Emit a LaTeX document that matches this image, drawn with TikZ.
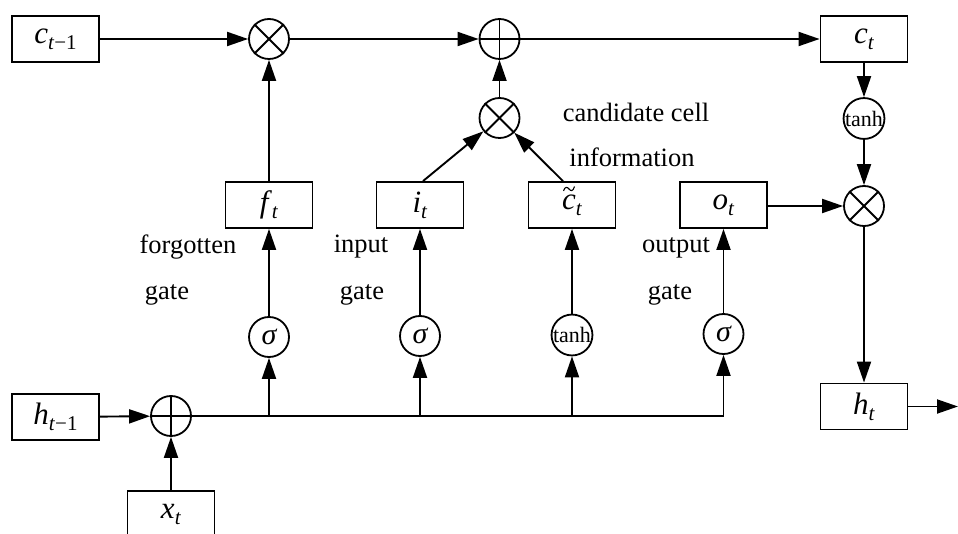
\documentclass[tikz,border=0pt]{standalone}
\usepackage{fontspec}
\setmainfont{Liberation Serif}
\usetikzlibrary{arrows.meta}
\newcommand{\vsub}[2]{{\fontsize{31}{31}\selectfont\textit{#1}}\raisebox{-6pt}{\fontsize{21}{21}\selectfont #2}}
\tikzset{
  box/.style={draw, line width=1.8pt, minimum width=87pt, minimum height=46pt, inner sep=0pt},
  op/.style={draw, circle, line width=1.8pt, minimum size=40pt, inner sep=0pt},
  arr/.style={line width=1.9pt, -{Triangle[length=21pt,width=14pt]}},
  ln/.style={line width=1.9pt},
  lbl/.style={font=\fontsize{26.5}{30}\selectfont, inner sep=0pt},
  fn/.style={font=\fontsize{22}{22}\selectfont},
  sg/.style={font=\fontsize{30}{30}\selectfont\itshape}
}
\begin{document}
\begin{tikzpicture}[x=1pt,y=-1pt]
\clip (0,0) rectangle (958,534);
\fill[white] (0,0) rectangle (958,534);
% top row
\node[box] (cprev) at (55.5,39) {\vsub{c}{\textit{t}−1}};
\node[op] (m1) at (269,39) {};
\node[op] (p1) at (499.5,39) {};
\node[box] (ct) at (864,39) {\vsub{c}{\textit{t}}};
\node[op, fn] (th1) at (864,118.5) {tanh};
\node[op] (m2) at (499.5,118) {};
\node[op] (mo) at (864,206) {};
% gate row
\node[box] (ft) at (269,205) {\vsub{f}{\textit{t}}};
\node[box] (it) at (420,205) {\vsub{i}{\textit{t}}};
\node[box] (ctil) at (572,205) {\vsub{c}{\textit{t}}};
\node[box] (ot) at (723.5,205) {\vsub{o}{\textit{t}}};
% tilde over c in ctil
\draw[line width=1.1pt] ([shift={(-8.5,-14)}]ctil.center)
  .. controls ([shift={(-7,-19)}]ctil.center) and ([shift={(-4.5,-18)}]ctil.center) .. ([shift={(-3,-16)}]ctil.center)
  .. controls ([shift={(-1.5,-14)}]ctil.center) and ([shift={(1,-13)}]ctil.center) .. ([shift={(2.5,-18.5)}]ctil.center);
% activations
\node[op, sg] (s1) at (269,337) {σ};
\node[op, sg] (s2) at (420,336) {σ};
\node[op, fn] (th2) at (572,335) {tanh};
\node[op, sg] (s3) at (723.5,334) {σ};
% bottom
\node[box] (hprev) at (55.5,417) {\vsub{h}{\textit{t}−1}};
\node[op] (p0) at (171,416) {};
\node[box] (xt) at (171,514) {\vsub{x}{\textit{t}}};
\node[box] (ht) at (864,406.5) {\vsub{h}{\textit{t}}};
\coordinate (busend) at (723.5,416);
\coordinate (hout) at (958,406.5);
% operator symbols
\foreach \n in {m1,m2,mo} {
  \draw[ln] (\n.north west) -- (\n.south east);
  \draw[ln] (\n.north east) -- (\n.south west);
}
\foreach \n in {p1,p0} {
  \draw[ln] (\n.north) -- (\n.south);
  \draw[ln] (\n.west) -- (\n.east);
}
% labels
\node[lbl] (l1) at (188,247) {forgotten};
\node[lbl] (l2) at (167,295) {gate};
\node[lbl] (l3) at (361,247) {input};
\node[lbl] (l4) at (362,295) {gate};
\node[lbl] (l5) at (676,248) {output};
\node[lbl] (l6) at (670,295) {gate};
\node[lbl] (l7) at (636,112) {candidate cell};
\node[lbl] (l8) at (632,157) {information};
% connectors
\draw[arr] (cprev) -- (m1);
\draw[arr] (m1) -- (p1);
\draw[arr] (p1) -- (ct);
\draw[arr] (ct) -- (th1);
\draw[arr] (th1) -- (mo);
\draw[arr] (mo) -- (ht);
\draw[arr] (ht) -- (hout);
\draw[arr] (m2) -- (p1);
\draw[arr] ([xshift=3pt]it.north) -- (m2);
\draw[arr] ([xshift=-9pt]ctil.north) -- (m2);
\draw[arr] (ot.east |- mo) -- (mo.west);
\draw[arr] (ft) -- (m1);
\draw[arr] (s1) -- (ft);
\draw[arr] (s2) -- (it);
\draw[arr] (th2) -- (ctil);
\draw[arr] (s3) -- (ot);
\draw[arr] (hprev) -- (p0);
\draw[arr] (xt) -- (p0);
\draw[ln] (p0.east) -- (busend);
\draw[arr] (s1 |- p0) -- (s1);
\draw[arr] (s2 |- p0) -- (s2);
\draw[arr] (th2 |- p0) -- (th2);
\draw[arr] (busend) -- (s3);
\end{tikzpicture}
\end{document}
